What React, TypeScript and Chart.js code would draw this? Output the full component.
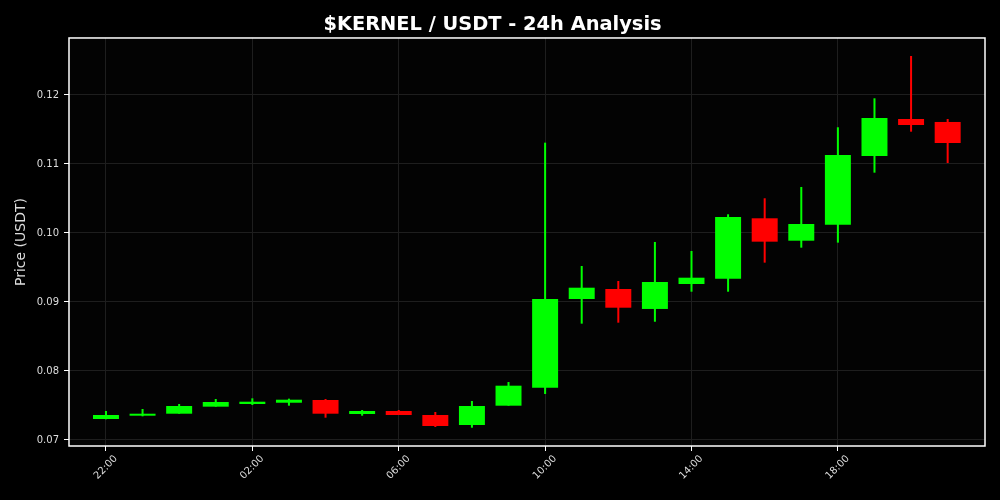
import React, { useEffect, useRef } from "react";
import { Chart, registerables } from "chart.js";

Chart.register(...registerables);

const hours = [
  "22:00", "23:00", "00:00", "01:00", "02:00", "03:00", "04:00", "05:00",
  "06:00", "07:00", "08:00", "09:00", "10:00", "11:00", "12:00", "13:00",
  "14:00", "15:00", "16:00", "17:00", "18:00", "19:00", "20:00", "21:00",
];
const opens = [
  0.07304, 0.07352, 0.07381, 0.07483, 0.07522, 0.0754, 0.0758, 0.07377,
  0.0742, 0.07362, 0.07217, 0.07497, 0.07758, 0.09043, 0.09188, 0.08899,
  0.09261, 0.09338, 0.10213, 0.09888, 0.1012, 0.11116, 0.11652, 0.11609,
];
const closes = [
  0.07362, 0.07381, 0.07493, 0.07551, 0.07555, 0.07584, 0.07381, 0.0742,
  0.07362, 0.07203, 0.07493, 0.07787, 0.09043, 0.09207, 0.08917, 0.0929,
  0.09352, 0.10232, 0.09874, 0.1013, 0.1113, 0.11667, 0.11565, 0.11304,
];
const highs = [
  0.0742, 0.07449, 0.07522, 0.07594, 0.07604, 0.07599, 0.07594, 0.07435,
  0.07435, 0.07406, 0.07565, 0.0784, 0.11309, 0.09522, 0.09304, 0.0987,
  0.09739, 0.10271, 0.10503, 0.10667, 0.11532, 0.11952, 0.12565, 0.11652,
];
const lows = [
  0.073, 0.07343, 0.07381, 0.07483, 0.07507, 0.07497, 0.07323, 0.07352,
  0.07362, 0.07188, 0.07178, 0.07497, 0.07667, 0.08686, 0.087, 0.08714,
  0.09149, 0.09149, 0.0957, 0.09787, 0.0986, 0.10874, 0.11468, 0.11014,
];
const xTickIndices = [0, 4, 8, 12, 16, 20];
const yTicks = [0.07, 0.08, 0.09, 0.1, 0.11, 0.12];

const UP = "#00ff00";
const DOWN = "#ff0000";

export default function App() {
  const ref = useRef<HTMLCanvasElement | null>(null);

  useEffect(() => {
    document.body.style.margin = "0";
    document.body.style.background = "#000";
    const canvas = ref.current;
    if (!canvas) return;
    const colors = opens.map((o, i) => (closes[i] >= o ? UP : DOWN));

    const frame = {
      id: "frame",
      beforeDraw(chart: any) {
        const { ctx, chartArea: a } = chart;
        ctx.save();
        ctx.fillStyle = "#000";
        ctx.fillRect(0, 0, chart.width, chart.height);
        ctx.fillStyle = "#030303";
        ctx.fillRect(a.left, a.top, a.right - a.left, a.bottom - a.top);
        ctx.restore();
      },
      afterDraw(chart: any) {
        const { ctx, chartArea: a } = chart;
        ctx.save();
        ctx.strokeStyle = "#ffffff";
        ctx.lineWidth = 1.5;
        ctx.strokeRect(a.left, a.top, a.right - a.left, a.bottom - a.top);
        ctx.restore();
      },
    };

    const chart = new Chart(canvas, {
      type: "bar",
      data: {
        datasets: [
          {
            label: "wick",
            data: hours.map((_, i) => ({ x: i, y: [lows[i], highs[i]] })) as any,
            backgroundColor: colors,
            barPercentage: 0.055,
            categoryPercentage: 1,
            grouped: false,
            order: 2,
          } as any,
          {
            label: "body",
            data: hours.map((_, i) => ({ x: i, y: [opens[i], closes[i]] })) as any,
            backgroundColor: colors,
            barPercentage: 0.71,
            categoryPercentage: 1,
            grouped: false,
            order: 1,
          } as any,
        ],
      },
      options: {
        responsive: false,
        animation: false,
        layout: { padding: { left: 0, right: 15, top: 0, bottom: 0 } },
        plugins: {
          legend: { display: false },
          tooltip: { enabled: false },
          title: {
            display: true,
            text: "$KERNEL / USDT - 24h Analysis",
            color: "#ffffff",
            font: { family: "DejaVu Sans", size: 19.4, weight: "bold" },
            padding: { top: 13, bottom: 1.7 },
          },
        },
        scales: {
          x: {
            type: "linear",
            min: -1.01,
            max: 24.02,
            offset: false,
            afterBuildTicks(scale: any) {
              scale.ticks = xTickIndices.map((v) => ({ value: v }));
            },
            afterFit(scale: any) {
              scale.height = 54;
            },
            ticks: {
              color: "#dddddd",
              font: { family: "DejaVu Sans", size: 10 },
              minRotation: 45,
              maxRotation: 45,
              padding: 2,
              labelOffset: 10,
              autoSkip: false,
              callback: (v: any) => hours[Number(v)] ?? "",
            },
            grid: {
              offset: false,
              color: "#1e1e1e",
              tickColor: "#ffffff",
              tickLength: 5,
            },
            border: { display: false },
          },
          y: {
            type: "linear",
            min: 0.06913,
            max: 0.12826,
            afterBuildTicks(scale: any) {
              scale.ticks = yTicks.map((v) => ({ value: v }));
            },
            afterFit(scale: any) {
              scale.width = 69;
            },
            ticks: {
              color: "#dddddd",
              font: { family: "DejaVu Sans", size: 10 },
              padding: 5,
              callback: (v: any) => Number(v).toFixed(2),
            },
            grid: {
              color: "#1e1e1e",
              tickColor: "#ffffff",
              tickLength: 5,
            },
            border: { display: false },
            title: {
              display: true,
              text: "Price (USDT)",
              color: "#dddddd",
              font: { family: "DejaVu Sans", size: 14 },
              padding: { top: 13, bottom: 0 },
            },
          },
        },
      },
      plugins: [frame],
    });

    return () => chart.destroy();
  }, []);

  return <canvas ref={ref} width={1000} height={500} style={{ display: "block" }} />;
}
